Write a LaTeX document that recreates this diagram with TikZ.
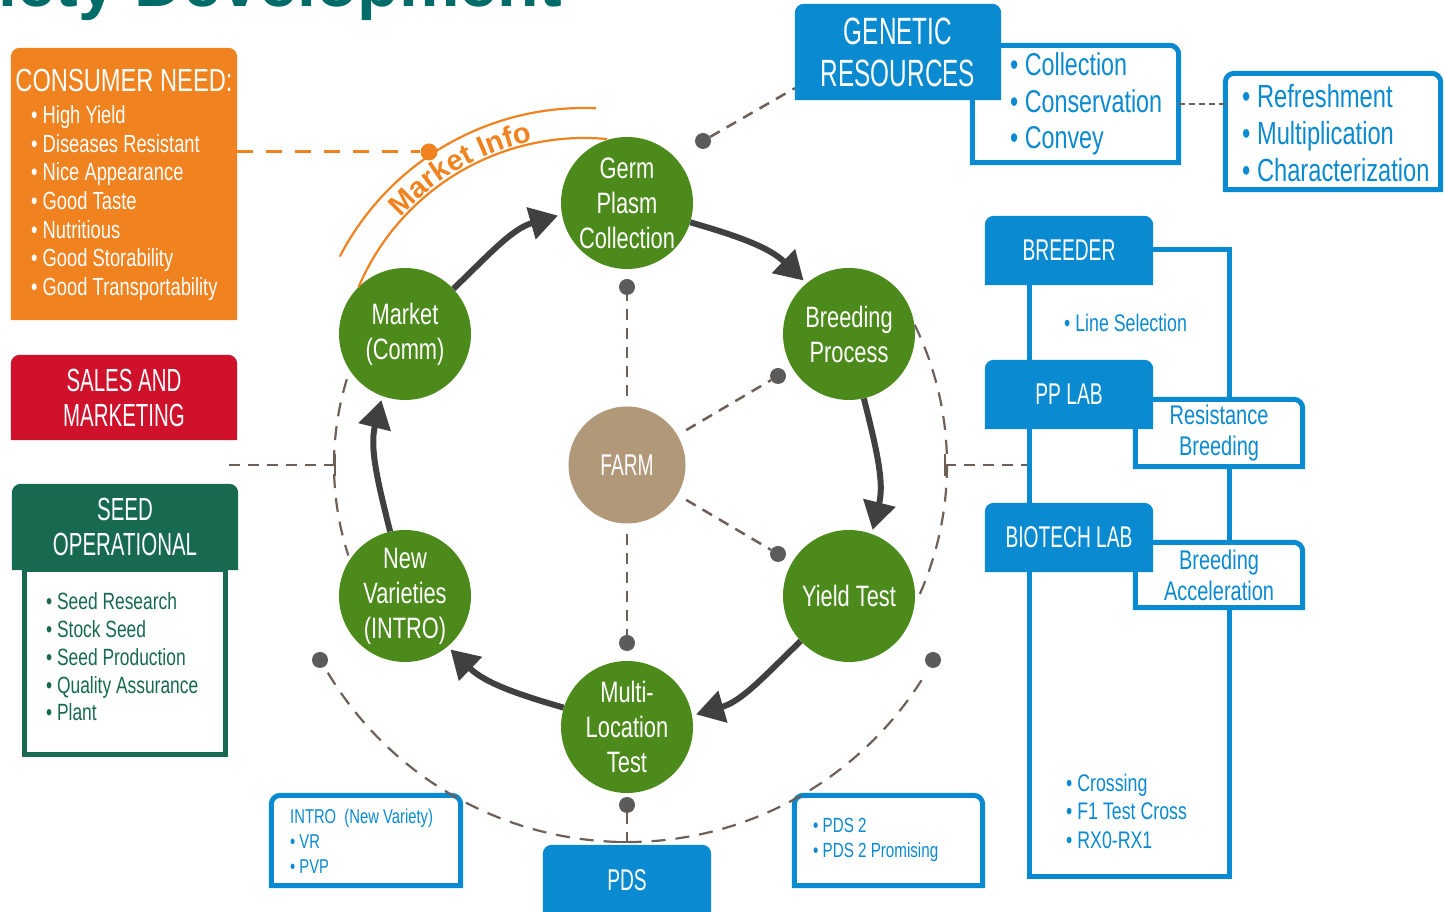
\documentclass[tikz,border=0pt]{standalone}
\usepackage{fontspec}
\setmainfont{Liberation Sans}[FakeStretch=0.74]
\newfontfamily\capsfont{Liberation Sans}[FakeStretch=0.64]
\newfontfamily\infofont{Liberation Sans}
\usetikzlibrary{positioning,arrows.meta,backgrounds,decorations.text}

\definecolor{consorange}{HTML}{F0821F}
\definecolor{salesred}{HTML}{D0112B}
\definecolor{seedgreen}{HTML}{17694F}
\definecolor{resblue}{HTML}{0A8AD0}
\definecolor{leaf}{HTML}{4B8A1B}
\definecolor{farmtan}{HTML}{B09879}
\definecolor{cyclegray}{HTML}{404040}
\definecolor{linkbrown}{HTML}{6E5F57}
\definecolor{dotgray}{HTML}{5B5B5B}
\definecolor{titleteal}{HTML}{006B68}

% box with rounded top corners only
\newcommand{\topround}[2]{%
  \path[#2] (#1.south west) [rounded corners=9pt] -- (#1.north west)
    -- (#1.north east) [sharp corners] -- (#1.south east) -- cycle;}

\tikzset{
  stage/.style={circle, fill=leaf, text=white, minimum size=132pt, inner sep=0pt,
    align=center, font=\fontsize{29.5}{35}\selectfont},
  headbox/.style={inner sep=0pt, align=center, text=white,
    font=\capsfont\fontsize{32}{35}\selectfont},
  panel/.style={inner sep=0pt, align=center, text=resblue},
  items/.style={inner sep=0pt, align=left, anchor=west},
  knob/.style={circle, fill=dotgray, minimum size=16pt, inner sep=0pt},
  link/.style={linkbrown, line width=2.5pt, dash pattern=on 11pt off 8pt},
  ring/.style={linkbrown, line width=2.2pt, dash pattern=on 14pt off 10pt},
  turn/.style={cyclegray, line width=6pt, -{Triangle[length=28pt,width=32pt]}, shorten >=4pt},
  blueline/.style={draw=resblue, line width=5pt, fill=white},
}

\begin{document}
\begin{tikzpicture}[x=1pt, y=1pt, on grid]
\useasboundingbox (0,0) rectangle (1445,912);
\clip (0,0) rectangle (1445,912);

% Title
\node[anchor=base east, inner sep=0pt, text=titleteal,
  font=\infofont\bfseries\fontsize{68}{68}\selectfont] (title) at (562,905) {Variety Development};

% Cycle
\node[circle, fill=farmtan, minimum size=117pt, inner sep=0pt, text=white,
  font=\capsfont\fontsize{30}{30}\selectfont] (farm) at (627,447) {FARM};
\node[stage, above=262pt of farm] (germ) {Germ\\Plasm\\Collection};
\node[stage, above right=131pt and 222pt of farm] (breed) {Breeding\\Process};
\node[stage, below right=131pt and 222pt of farm] (yield) {Yield Test};
\node[stage, below=262pt of farm] (multi) {Multi-\\Location\\Test};
\node[stage, below left=131pt and 222pt of farm] (newvar) {New\\Varieties\\(INTRO)};
\node[stage, above left=131pt and 222pt of farm] (market) {Market\\(Comm)};

\draw[turn] (market.43) to[out=44, in=196] (germ.190);
\draw[turn] (germ.-17) to[out=-16, in=136] (breed.130);
\draw[turn] (breed.-77) to[out=-76, in=76] (yield.70);
\draw[turn] (yield.-137) to[out=-136, in=16] (multi.10);
\draw[turn] (multi.163) to[out=164, in=-44] (newvar.-50);
\draw[turn] (newvar.103) to[out=104, in=256] (market.250);

% Farm links
\node[knob, above=178pt of farm] (topknob) {};
\node[knob, below=178pt of farm] (lowknob) {};
\node[knob, above right=89pt and 151pt of farm] (breedknob) {};
\node[knob, below right=89pt and 151pt of farm] (yieldknob) {};
\draw[link, shorten <=10pt] (farm) -- (topknob);
\draw[link, shorten <=10pt] (farm) -- (lowknob);
\draw[link, shorten <=10pt] (farm) -- (breedknob);
\draw[link, shorten <=10pt] (farm) -- (yieldknob);

% Outer ring
\node[knob, below=78pt of multi] (pdsknob) {};
\node[knob] (grknob) at (703,771) {};
\node[knob] (leftknob) at (320,252) {};
\node[knob] (rightknob) at (933,252) {};
\draw[ring] (farm.center) ++(163:293pt) arc[start angle=163, end angle=198, radius=293pt];
\draw[ring] (farm.center) ++(26:320pt) arc[start angle=26, end angle=-25, radius=320pt];
\draw[ring] (627,419) ++(211:349pt) arc[start angle=211, end angle=329, radius=349pt];
\coordinate (lmid) at (229,447);
\coordinate (ltick) at (335,447);
\coordinate (rtick) at (945,447);
\coordinate (rmid) at (1027,447);
\coordinate (btick) at (627,70);
\draw[link] (lmid) -- (ltick);
\draw[link] (rtick) -- (rmid);
\draw[linkbrown, line width=2.2pt] (ltick) ++(0,-11) -- ++(0,22);
\draw[linkbrown, line width=2.2pt] (rtick) ++(0,-11) -- ++(0,22);
\draw[linkbrown, line width=2.2pt] (btick) ++(-11,0) -- ++(22,0);

% Left column
\node[headbox, minimum width=226pt, minimum height=272pt] (cons) at (124,728) {};
\node[headbox, font=\fontsize{32}{32}\selectfont] (constitle) at (124,832) {CONSUMER NEED:};
\node[items, text=white, font=\fontsize{24.8}{28.6}\selectfont] (consitems) at (31,709)
  {• High Yield\\• Diseases Resistant\\• Nice Appearance\\• Good Taste\\• Nutritious\\• Good Storability\\• Good Transportability};
\node[headbox, minimum width=226pt, minimum height=85pt] (sales) at (124,514.5) {SALES AND\\MARKETING};
\node[headbox, minimum width=226pt, minimum height=86pt] (seedhd) at (125,385) {SEED\\OPERATIONAL};
\node[panel, minimum width=201pt, minimum height=184pt] (seedbody) at (125,250) {};
\node[items, text=seedgreen, font=\fontsize{23.5}{27.7}\selectfont] (seeditems) at (46,255)
  {• Seed Research\\• Stock Seed\\• Seed Production\\• Quality Assurance\\• Plant};

% Market info
\coordinate (mcentre) at (584,529);
\node[circle, fill=consorange, minimum size=17pt, inner sep=0pt] (mknob) at (429,760) {};
\draw[consorange, line width=3pt, dash pattern=on 16pt off 13pt] (cons.east |- mknob) -- (mknob);
\draw[consorange, line width=2.2pt] (mcentre) ++(152.6:275pt) arc[start angle=152.6, end angle=87.5, radius=275pt];
\draw[consorange, line width=2.2pt] (mcentre) ++(157:245pt) arc[start angle=157, end angle=84.6, radius=245pt];
\path[decorate, decoration={text along path, text align=center,
  text={|\infofont\bfseries\fontsize{29}{29}\selectfont\color{consorange}|Market Info}}]
  (584,529) ++(150:247pt) arc[start angle=150, end angle=90, radius=247pt];

% Genetic resources
\node[headbox, font=\capsfont\fontsize{38}{42}\selectfont, minimum width=206pt, minimum height=96pt] (gr) at (898,860) {GENETIC\\RESOURCES};
\node[panel, minimum width=206pt, minimum height=117pt] (coll) at (1075.5,808) {};
\node[items, text=resblue, font=\fontsize{31.5}{36.7}\selectfont] (collitems) at (1010,808)
  {• Collection\\• Conservation\\• Convey};
\node[panel, minimum width=215pt, minimum height=116pt] (refr) at (1333,780.5) {};
\node[items, text=resblue, font=\fontsize{32}{36.7}\selectfont] (refritems) at (1242,779)
  {• Refreshment\\• Multiplication\\• Characterization};
\draw[link, dash pattern=on 6pt off 4pt] (coll.east) -- (coll.east -| refr.west);
\draw[link] (grknob) -- ([yshift=12pt]gr.south west);

% Breeder column
\node[headbox, font=\capsfont\fontsize{30}{30}\selectfont, minimum width=168pt, minimum height=69pt] (breeder) at (1069,661.5) {BREEDER};
\node[headbox, font=\capsfont\fontsize{30}{30}\selectfont, minimum width=168pt, minimum height=69pt] (pplab) at (1069,517.5) {PP LAB};
\node[headbox, font=\capsfont\fontsize{30}{30}\selectfont, minimum width=168pt, minimum height=69pt] (biotech) at (1069,374.5) {BIOTECH LAB};
\node[panel, font=\fontsize{27}{31}\selectfont, minimum width=167pt, minimum height=67pt] (resist) at (1219,479) {Resistance\\Breeding};
\node[panel, font=\fontsize{27}{31}\selectfont, minimum width=167pt, minimum height=65pt] (accel) at (1219,337) {Breeding\\Acceleration};
\node[items, text=resblue, font=\fontsize{24}{28}\selectfont] (linesel) at (1064,589) {• Line Selection};
\node[items, text=resblue, font=\fontsize{24}{28.5}\selectfont] (crossitems) at (1066,101)
  {• Crossing\\• F1 Test Cross\\• RX0-RX1};

% Bottom
\node[headbox, font=\capsfont\fontsize{30}{30}\selectfont, minimum width=168pt, minimum height=71pt] (pds) at (627,31.5) {PDS};
\draw[link] (pdsknob) -- (pds);
\node[panel, minimum width=189pt, minimum height=90pt] (intro) at (366,71.5) {};
\node[items, text=resblue, font=\fontsize{20}{25}\selectfont] (introitems) at (290,71)
  {INTRO\ \ (New Variety)\\• VR\\• PVP};
\node[panel, minimum width=188pt, minimum height=90pt] (pdstwo) at (888.5,71.5) {};
\node[items, text=resblue, font=\fontsize{20.5}{25}\selectfont] (pdstwoitems) at (813,72.5)
  {• PDS 2\\• PDS 2 Promising};

% Box shapes
\begin{scope}[on background layer]
  \draw[resblue, line width=5pt] (1029,662) rectangle (1229,35);
  \topround{coll}{blueline}
  \topround{refr}{blueline}
  \topround{resist}{blueline}
  \topround{accel}{blueline}
  \topround{intro}{blueline}
  \topround{pdstwo}{blueline}
  \draw[seedgreen, line width=5pt, fill=white] (seedbody.south west) rectangle (seedbody.north east);
  \topround{cons}{fill=consorange}
  \topround{sales}{fill=salesred}
  \topround{seedhd}{fill=seedgreen}
  \topround{gr}{fill=resblue}
  \topround{breeder}{fill=resblue}
  \topround{pplab}{fill=resblue}
  \topround{biotech}{fill=resblue}
  \topround{pds}{fill=resblue}
\end{scope}
\end{tikzpicture}
\end{document}
